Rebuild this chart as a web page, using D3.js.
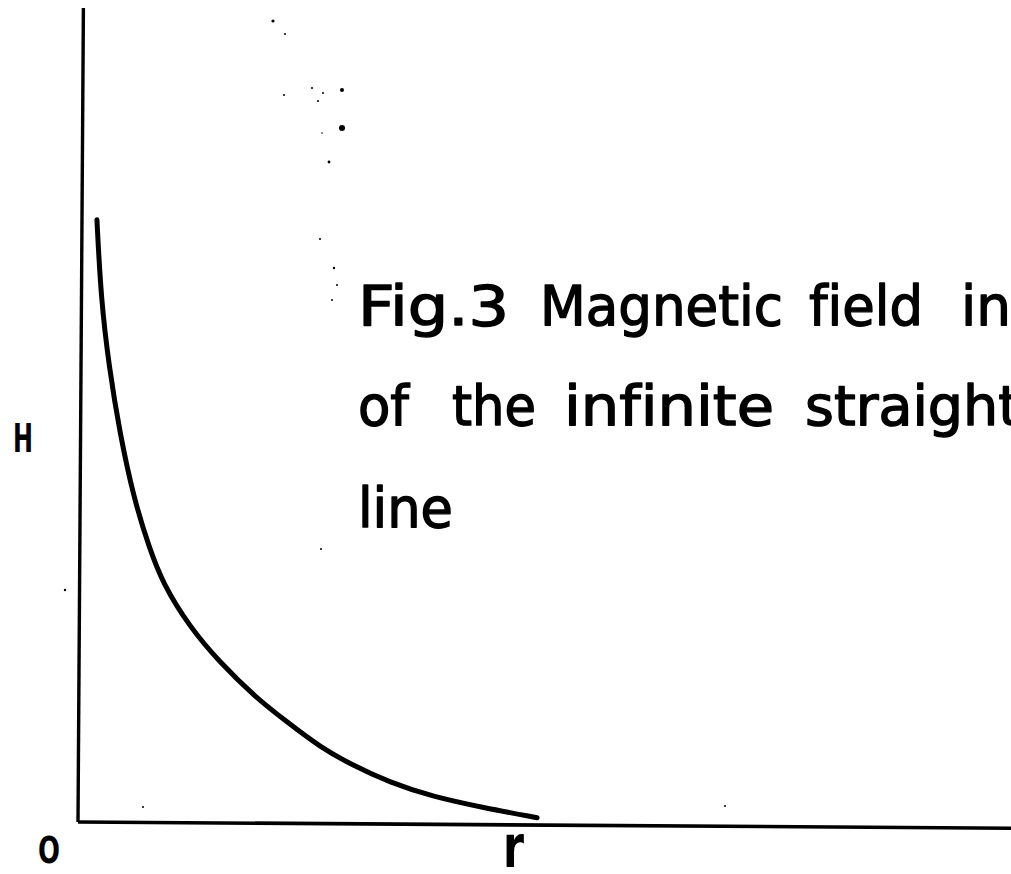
<!DOCTYPE html>
<html>
<head>
<meta charset="utf-8">
<script src="https://cdn.jsdelivr.net/npm/d3@7"></script>
<style>
  html, body { margin: 0; padding: 0; background: #fff; overflow: hidden; }
  svg { display: block; }
  text { font-variant-ligatures: none; font-feature-settings: "liga" 0, "clig" 0; }
</style>
</head>
<body>
<svg id="chart" width="1011" height="874"></svg>
<script>
// H as a function of distance r from the wire (hand-drawn curve)
const rValues = [0.16, 0.21, 0.30, 0.42, 0.58, 0.74, 0.89, 1.18, 1.51, 1.89, 2.24, 2.59, 2.92, 3.34, 3.80, 4.34, 4.92];
const hValues = [7.40, 6.42, 5.60, 4.78, 3.96, 3.39, 2.94, 2.41, 1.97, 1.55, 1.24, 0.94, 0.73, 0.51, 0.34, 0.21, 0.09];

const titleLines = ["Fig.3 Magnetic field in", "of the infinite straight", "line"];
const xLabel = "r";
const yLabel = "H";
const originLabel = "O";

// lettering layout: left edge and width of each word, per line
const wordLeft = [[358, 540, 809, 961], [358, 452, 564, 805], [358]];
const wordWidth = [[151, 243, 114, 50], [51, 84, 210, 215], [95]];
const lineBaseline = [325, 425, 527];

// small ink specks on the sheet
const speckX = [273, 285, 284, 312, 323, 318, 342, 342, 322, 329, 320, 334, 337, 332, 321, 65, 143, 725];
const speckY = [21, 34, 95, 88, 93, 101, 90, 128, 133, 162, 239, 268, 285, 300, 549, 590, 807, 806];
const speckR = [1.6, 1.0, 1.0, 1.0, 1.0, 1.0, 2.0, 3.0, 0.8, 1.4, 1.0, 1.2, 1.0, 1.0, 1.0, 1.2, 1.0, 1.0];

const svg = d3.select("#chart");
svg.append("rect").attr("width", 1011).attr("height", 874).attr("fill", "#fff");

const origin = { x: 78, y: 822 };
const x = d3.scaleLinear().domain([0, 10]).range([0, 933]);
const y = d3.scaleLinear().domain([0, 10]).range([0, -814]);

// plot frame, slightly skewed like a hand-ruled sheet
const plot = svg.append("g")
  .attr("transform", `translate(${origin.x},${origin.y}) rotate(0.38)`);

plot.append("line")
  .attr("x1", x(0)).attr("y1", y(0))
  .attr("x2", x(0)).attr("y2", y(10))
  .attr("stroke", "#000").attr("stroke-width", 3.4);

plot.append("line")
  .attr("x1", x(0)).attr("y1", y(0))
  .attr("x2", x(10.4)).attr("y2", y(0))
  .attr("stroke", "#000").attr("stroke-width", 3.6);

const pts = rValues.map((r, i) => [r, hValues[i]]);
const line = d3.line()
  .x(d => x(d[0]))
  .y(d => y(d[1]))
  .curve(d3.curveBasis);

plot.append("path")
  .attr("d", line(pts))
  .attr("fill", "none")
  .attr("stroke", "#000")
  .attr("stroke-width", 5)
  .attr("stroke-linecap", "round")
  .attr("stroke-linejoin", "round");

// title block, one text per line with each word placed on its own
const font = "'DejaVu Sans',sans-serif";
const titles = svg.selectAll("text.title")
  .data(titleLines)
  .enter().append("text")
  .attr("class", "title")
  .attr("y", (d, i) => lineBaseline[i])
  .attr("font-family", font)
  .attr("font-size", 55)
  .attr("fill", "#000")
  .attr("stroke", "#000")
  .attr("stroke-width", 1.4)
  .attr("stroke-linejoin", "round");

titles.each(function (d, i) {
  const words = d.split(" ");
  d3.select(this).selectAll("tspan")
    .data(words)
    .enter().append("tspan")
    .attr("x", (w, j) => wordLeft[i][j])
    .attr("textLength", (w, j) => wordWidth[i][j])
    .attr("lengthAdjust", "spacingAndGlyphs")
    .text(w => w);
});

// axis labels
svg.append("text")
  .attr("x", 13).attr("y", 452)
  .attr("textLength", 20).attr("lengthAdjust", "spacingAndGlyphs")
  .attr("font-family", font).attr("font-weight", "bold").attr("font-size", 39)
  .attr("fill", "#000")
  .text(yLabel);

svg.append("text")
  .attr("x", 38).attr("y", 863)
  .attr("textLength", 22).attr("lengthAdjust", "spacingAndGlyphs")
  .attr("font-family", font).attr("font-weight", "bold").attr("font-size", 37)
  .attr("fill", "#000")
  .text(originLabel);

svg.append("text")
  .attr("x", 503).attr("y", 867)
  .attr("textLength", 21).attr("lengthAdjust", "spacingAndGlyphs")
  .attr("font-family", font).attr("font-weight", "bold").attr("font-size", 58)
  .attr("fill", "#000")
  .text(xLabel);

svg.selectAll("circle.speck")
  .data(speckX)
  .enter().append("circle")
  .attr("class", "speck")
  .attr("cx", d => d)
  .attr("cy", (d, i) => speckY[i])
  .attr("r", (d, i) => speckR[i])
  .attr("fill", "#000");
</script>
</body>
</html>
